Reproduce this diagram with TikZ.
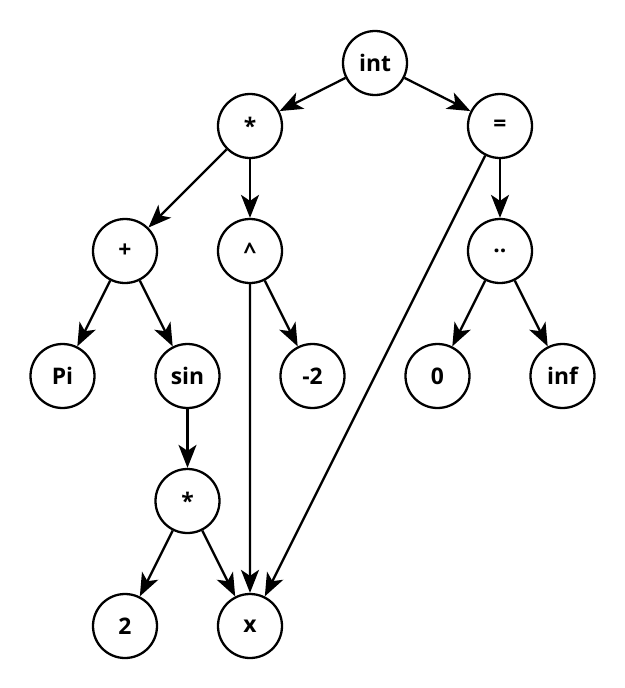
\documentclass[tikz,border=0pt]{standalone}
\usepackage{fontspec}
\setmainfont{Open Sans}
\usepackage{tikz}
\usetikzlibrary{arrows.meta, positioning}
\tikzstyle{term} = [circle, minimum size=1.28cm, inner sep=0pt, draw=black, line width=1.3pt, font=\bfseries\fontsize{13}{16}\selectfont]
\tikzstyle{arrow} = [line width=1.3pt, -{Stealth[length=0.46cm, width=0.36cm, inset=0.12cm]}]

\begin{document}
\begin{tikzpicture}[node distance=2.5cm, on grid]

      \useasboundingbox (0,0) rectangle (12.5,-13.76);

      % Nodes
      \node (int) [term] at (7.5,-1.26) {int};
      \node (mul) [term, below left=1.26cm and 2.5cm of int] {*};
      \node (eq) [term, below right=1.26cm and 2.5cm of int] {=};

      \node (plus) [term, below left=2.5cm and 2.5cm of mul] {+};
      \node (pow) [term, below=of mul] {\textasciicircum};
      \node (range) [term, below=of eq] {..};

      \node (pi) [term, below left=2.5cm and 1.25cm of plus] {Pi};
      \node (sin) [term, below right=2.5cm and 1.25cm of plus] {sin};
      \node (neg) [term, below right=2.5cm and 1.25cm of pow] {-2};
      \node (zero) [term, below left=2.5cm and 1.25cm of range] {0};
      \node (inf) [term, below right=2.5cm and 1.25cm of range] {inf};

      \node (mulb) [term, below=of sin] {*};
      \node (two) [term, below left=2.5cm and 1.25cm of mulb] {2};
      \node (x) [term, below right=2.5cm and 1.25cm of mulb] {x};

      % Arrows
      \draw [arrow] (int) -- (mul);
      \draw [arrow] (int) -- (eq);
      \draw [arrow] (mul) -- (plus);
      \draw [arrow] (mul) -- (pow);
      \draw [arrow] (eq) -- (range);
      \draw [arrow] (eq) -- (x);
      \draw [arrow] (plus) -- (pi);
      \draw [arrow] (plus) -- (sin);
      \draw [arrow] (pow) -- (neg);
      \draw [arrow] (pow) -- (x);
      \draw [arrow] (range) -- (zero);
      \draw [arrow] (range) -- (inf);
      \draw [arrow] (sin) -- (mulb);
      \draw [arrow] (mulb) -- (two);
      \draw [arrow] (mulb) -- (x);

    \end{tikzpicture}
\end{document}
